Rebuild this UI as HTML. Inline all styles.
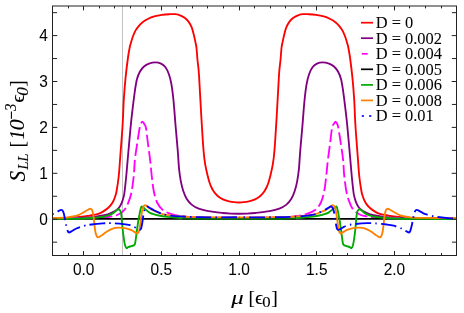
<!DOCTYPE html>
<html><head><meta charset="utf-8"><title>Chart</title>
<style>
html,body{margin:0;padding:0;background:#fff;}
body{width:464px;height:313px;overflow:hidden;position:relative;font-family:"Liberation Sans",sans-serif;}
</style></head><body>
<svg width="464" height="313" viewBox="0 0 464 313" style="position:absolute;left:0;top:0;will-change:transform">
<defs><clipPath id="cp"><rect x="52.50" y="6.00" width="404.00" height="249.50"/></clipPath></defs>
<line x1="122.50" y1="6.00" x2="122.50" y2="255.50" stroke="#c2c2c2" stroke-width="1"/>
<g clip-path="url(#cp)" fill="none" stroke-width="1.85" stroke-linejoin="round">
<path d="M52.50 218.20 C55.42 218.10 64.75 217.90 70.00 217.60 C75.25 217.30 80.88 216.70 84.00 216.40 C87.12 216.10 87.12 216.03 88.70 215.80 C90.28 215.57 91.92 215.33 93.50 215.00 C95.08 214.67 96.62 214.37 98.20 213.80 C99.78 213.23 101.42 212.52 103.00 211.60 C104.58 210.68 106.28 209.55 107.70 208.30 C109.12 207.05 110.47 205.52 111.50 204.10 C112.53 202.68 113.27 201.15 113.90 199.80 C114.53 198.45 114.85 197.47 115.30 196.00 C115.75 194.53 116.02 194.33 116.60 191.00 C117.17 187.67 118.13 181.83 118.75 176.00 C119.37 170.17 119.66 164.50 120.30 156.00 C120.94 147.50 122.02 134.38 122.60 125.00 C123.18 115.62 123.30 107.63 123.80 99.70 C124.30 91.77 124.90 84.43 125.60 77.40 C126.30 70.37 127.33 62.40 128.00 57.50 C128.67 52.60 129.12 50.43 129.60 48.00 C130.08 45.57 130.35 44.82 130.90 42.90 C131.45 40.98 132.13 38.55 132.90 36.50 C133.67 34.45 134.53 32.33 135.50 30.60 C136.47 28.87 137.52 27.50 138.70 26.10 C139.88 24.70 141.08 23.38 142.60 22.20 C144.12 21.02 145.87 19.97 147.80 19.00 C149.73 18.03 151.83 17.10 154.20 16.40 C156.57 15.70 159.42 15.17 162.00 14.80 C164.58 14.43 167.53 14.30 169.70 14.20 C171.87 14.10 173.38 14.05 175.00 14.20 C176.62 14.35 177.80 14.52 179.40 15.10 C181.00 15.68 183.08 16.62 184.60 17.70 C186.12 18.78 187.32 19.98 188.50 21.60 C189.68 23.22 190.80 25.13 191.70 27.40 C192.60 29.67 193.25 32.62 193.90 35.20 C194.55 37.78 195.17 40.77 195.60 42.90 C196.03 45.03 196.18 45.15 196.50 48.00 C196.82 50.85 197.08 55.50 197.50 60.00 C197.92 64.50 198.38 65.75 199.00 75.00 C199.62 84.25 200.50 103.00 201.25 115.50 C202.00 128.00 202.84 141.85 203.50 150.00 C204.16 158.15 204.48 160.02 205.20 164.40 C205.92 168.78 207.08 173.28 207.80 176.30 C208.52 179.32 208.88 180.63 209.50 182.50 C210.12 184.37 210.82 186.05 211.50 187.50 C212.18 188.95 212.83 190.07 213.60 191.20 C214.37 192.33 215.20 193.35 216.10 194.30 C217.00 195.25 218.00 196.13 219.00 196.90 C220.00 197.67 221.10 198.35 222.10 198.90 C223.10 199.45 224.00 199.83 225.00 200.20 C226.00 200.57 226.57 200.77 228.10 201.10 C229.63 201.43 232.38 201.97 234.20 202.20 C236.02 202.43 237.40 202.50 239.00 202.50 C240.60 202.50 241.98 202.43 243.80 202.20 C245.62 201.97 248.37 201.43 249.90 201.10 C251.43 200.77 252.00 200.57 253.00 200.20 C254.00 199.83 254.90 199.45 255.90 198.90 C256.90 198.35 258.00 197.67 259.00 196.90 C260.00 196.13 261.00 195.25 261.90 194.30 C262.80 193.35 263.63 192.33 264.40 191.20 C265.17 190.07 265.82 188.95 266.50 187.50 C267.18 186.05 267.88 184.37 268.50 182.50 C269.12 180.63 269.48 179.32 270.20 176.30 C270.92 173.28 272.08 168.78 272.80 164.40 C273.52 160.02 273.84 158.15 274.50 150.00 C275.16 141.85 276.00 128.00 276.75 115.50 C277.50 103.00 278.38 84.25 279.00 75.00 C279.62 65.75 280.08 64.50 280.50 60.00 C280.92 55.50 281.18 50.85 281.50 48.00 C281.82 45.15 281.97 45.03 282.40 42.90 C282.83 40.77 283.45 37.78 284.10 35.20 C284.75 32.62 285.40 29.67 286.30 27.40 C287.20 25.13 288.32 23.22 289.50 21.60 C290.68 19.98 291.88 18.78 293.40 17.70 C294.92 16.62 297.00 15.68 298.60 15.10 C300.20 14.52 301.38 14.35 303.00 14.20 C304.62 14.05 306.13 14.10 308.30 14.20 C310.47 14.30 313.42 14.43 316.00 14.80 C318.58 15.17 321.43 15.70 323.80 16.40 C326.17 17.10 328.27 18.03 330.20 19.00 C332.13 19.97 333.88 21.02 335.40 22.20 C336.92 23.38 338.12 24.70 339.30 26.10 C340.48 27.50 341.53 28.87 342.50 30.60 C343.47 32.33 344.33 34.45 345.10 36.50 C345.87 38.55 346.55 40.98 347.10 42.90 C347.65 44.82 347.92 45.57 348.40 48.00 C348.88 50.43 349.33 52.60 350.00 57.50 C350.67 62.40 351.70 70.37 352.40 77.40 C353.10 84.43 353.70 91.77 354.20 99.70 C354.70 107.63 354.82 115.62 355.40 125.00 C355.98 134.38 357.06 147.50 357.70 156.00 C358.34 164.50 358.63 170.17 359.25 176.00 C359.87 181.83 360.82 187.67 361.40 191.00 C361.97 194.33 362.25 194.53 362.70 196.00 C363.15 197.47 363.47 198.45 364.10 199.80 C364.73 201.15 365.47 202.68 366.50 204.10 C367.53 205.52 368.88 207.05 370.30 208.30 C371.72 209.55 373.42 210.68 375.00 211.60 C376.58 212.52 378.22 213.23 379.80 213.80 C381.38 214.37 382.92 214.67 384.50 215.00 C386.08 215.33 387.72 215.57 389.30 215.80 C390.88 216.03 390.88 216.10 394.00 216.40 C397.12 216.70 402.75 217.30 408.00 217.60 C413.25 217.90 417.42 218.03 425.50 218.20 C433.58 218.37 451.33 218.53 456.50 218.60" stroke="#ff0000"/>
<path d="M52.50 218.40 C57.92 218.27 77.38 217.97 85.00 217.60 C92.62 217.23 95.20 216.55 98.20 216.20 C101.20 215.85 101.42 215.82 103.00 215.50 C104.58 215.18 106.13 214.82 107.70 214.30 C109.27 213.78 110.82 213.22 112.40 212.40 C113.98 211.58 115.93 210.43 117.20 209.40 C118.47 208.37 119.22 207.37 120.00 206.20 C120.78 205.03 121.35 203.77 121.90 202.40 C122.45 201.03 122.88 199.57 123.30 198.00 C123.72 196.43 123.91 196.67 124.40 193.00 C124.89 189.33 125.65 182.17 126.25 176.00 C126.85 169.83 127.24 164.50 128.00 156.00 C128.76 147.50 129.98 133.27 130.80 125.00 C131.62 116.73 132.22 112.10 132.90 106.40 C133.58 100.70 134.22 95.37 134.90 90.80 C135.58 86.23 136.15 82.22 137.00 79.00 C137.85 75.78 138.83 73.58 140.00 71.50 C141.17 69.42 142.50 67.82 144.00 66.50 C145.50 65.18 147.08 64.28 149.00 63.60 C150.92 62.92 153.50 62.40 155.50 62.40 C157.50 62.40 159.33 62.80 161.00 63.60 C162.67 64.40 164.17 65.38 165.50 67.20 C166.83 69.02 168.02 71.68 169.00 74.50 C169.98 77.32 170.70 80.27 171.40 84.10 C172.10 87.93 172.70 93.03 173.20 97.50 C173.70 101.97 174.02 106.32 174.40 110.90 C174.78 115.48 174.95 118.48 175.50 125.00 C176.05 131.52 177.10 142.63 177.70 150.00 C178.30 157.37 178.58 164.02 179.10 169.20 C179.62 174.38 180.12 177.52 180.80 181.10 C181.48 184.68 182.20 187.70 183.20 190.70 C184.20 193.70 185.40 196.78 186.80 199.10 C188.20 201.42 189.62 203.00 191.60 204.60 C193.58 206.20 195.92 207.60 198.70 208.70 C201.48 209.80 204.30 210.48 208.30 211.20 C212.30 211.92 218.92 212.60 222.70 213.00 C226.48 213.40 228.28 213.48 231.00 213.60 C233.72 213.72 236.33 213.70 239.00 213.70 C241.67 213.70 244.28 213.72 247.00 213.60 C249.72 213.48 251.52 213.40 255.30 213.00 C259.08 212.60 265.70 211.92 269.70 211.20 C273.70 210.48 276.52 209.80 279.30 208.70 C282.08 207.60 284.42 206.20 286.40 204.60 C288.38 203.00 289.80 201.42 291.20 199.10 C292.60 196.78 293.80 193.70 294.80 190.70 C295.80 187.70 296.52 184.68 297.20 181.10 C297.88 177.52 298.38 174.38 298.90 169.20 C299.42 164.02 299.70 157.37 300.30 150.00 C300.90 142.63 301.95 131.52 302.50 125.00 C303.05 118.48 303.22 115.48 303.60 110.90 C303.98 106.32 304.30 101.97 304.80 97.50 C305.30 93.03 305.90 87.93 306.60 84.10 C307.30 80.27 308.02 77.32 309.00 74.50 C309.98 71.68 311.17 69.02 312.50 67.20 C313.83 65.38 315.33 64.40 317.00 63.60 C318.67 62.80 320.50 62.40 322.50 62.40 C324.50 62.40 327.08 62.92 329.00 63.60 C330.92 64.28 332.50 65.18 334.00 66.50 C335.50 67.82 336.83 69.42 338.00 71.50 C339.17 73.58 340.15 75.78 341.00 79.00 C341.85 82.22 342.42 86.23 343.10 90.80 C343.78 95.37 344.42 100.70 345.10 106.40 C345.78 112.10 346.38 116.73 347.20 125.00 C348.02 133.27 349.24 147.50 350.00 156.00 C350.76 164.50 351.15 169.83 351.75 176.00 C352.35 182.17 353.11 189.33 353.60 193.00 C354.09 196.67 354.28 196.43 354.70 198.00 C355.12 199.57 355.55 201.03 356.10 202.40 C356.65 203.77 357.22 205.03 358.00 206.20 C358.78 207.37 359.53 208.37 360.80 209.40 C362.07 210.43 364.02 211.58 365.60 212.40 C367.18 213.22 368.73 213.78 370.30 214.30 C371.87 214.82 373.42 215.18 375.00 215.50 C376.58 215.82 376.80 215.85 379.80 216.20 C382.80 216.55 385.38 217.23 393.00 217.60 C400.62 217.97 414.92 218.23 425.50 218.40 C436.08 218.57 451.33 218.57 456.50 218.60" stroke="#800080"/>
<path d="M52.50 218.50 C60.42 218.38 90.17 218.17 100.00 217.80 C109.83 217.43 108.63 216.77 111.50 216.30 C114.37 215.83 115.47 215.67 117.20 215.00 C118.93 214.33 120.48 213.42 121.90 212.30 C123.32 211.18 124.75 209.60 125.70 208.30 C126.65 207.00 126.67 206.97 127.60 204.50 C128.53 202.03 130.22 198.25 131.25 193.50 C132.28 188.75 133.14 181.63 133.75 176.00 C134.36 170.37 134.36 164.90 134.90 159.70 C135.44 154.50 136.22 150.05 137.00 144.80 C137.78 139.55 138.98 131.65 139.60 128.20 C140.22 124.75 140.22 125.18 140.70 124.10 C141.18 123.02 141.90 121.70 142.50 121.70 C143.10 121.70 143.72 123.02 144.30 124.10 C144.88 125.18 145.37 124.75 146.00 128.20 C146.63 131.65 147.40 139.40 148.10 144.80 C148.80 150.20 149.59 155.40 150.20 160.60 C150.81 165.80 151.16 170.93 151.75 176.00 C152.34 181.07 152.88 186.62 153.75 191.00 C154.62 195.38 155.54 199.12 157.00 202.25 C158.46 205.38 159.92 207.72 162.50 209.75 C165.08 211.78 168.33 213.22 172.50 214.40 C176.67 215.58 182.08 216.27 187.50 216.80 C192.92 217.33 196.42 217.43 205.00 217.60 C213.58 217.77 233.33 217.77 239.00 217.80" stroke="#ff00ff" stroke-dasharray="12.5 4" stroke-dashoffset="2.31"/>
<path d="M239.00 217.80 C244.67 217.77 264.42 217.77 273.00 217.60 C281.58 217.43 285.08 217.33 290.50 216.80 C295.92 216.27 301.33 215.58 305.50 214.40 C309.67 213.22 312.92 211.78 315.50 209.75 C318.08 207.72 319.54 205.38 321.00 202.25 C322.46 199.12 323.38 195.38 324.25 191.00 C325.12 186.62 325.66 181.07 326.25 176.00 C326.84 170.93 327.19 165.80 327.80 160.60 C328.41 155.40 329.20 150.20 329.90 144.80 C330.60 139.40 331.37 131.65 332.00 128.20 C332.63 124.75 333.12 125.18 333.70 124.10 C334.28 123.02 334.90 121.70 335.50 121.70 C336.10 121.70 336.82 123.02 337.30 124.10 C337.78 125.18 337.78 124.75 338.40 128.20 C339.02 131.65 340.22 139.55 341.00 144.80 C341.78 150.05 342.56 154.50 343.10 159.70 C343.64 164.90 343.64 170.37 344.25 176.00 C344.86 181.63 345.73 188.75 346.75 193.50 C347.77 198.25 349.47 202.03 350.40 204.50 C351.32 206.97 351.35 207.00 352.30 208.30 C353.25 209.60 354.68 211.18 356.10 212.30 C357.52 213.42 359.07 214.33 360.80 215.00 C362.53 215.67 363.63 215.83 366.50 216.30 C369.37 216.77 368.17 217.43 378.00 217.80 C387.83 218.17 412.42 218.37 425.50 218.50 C438.58 218.63 451.33 218.58 456.50 218.60" stroke="#ff00ff" stroke-dasharray="12.5 4" stroke-dashoffset="0.15"/>
<line x1="52.50" y1="218.90" x2="456.50" y2="218.90" stroke="#000" stroke-width="1.7"/>
<path d="M52.50 218.90 C56.25 218.88 68.42 218.90 75.00 218.75 C81.58 218.60 87.73 218.26 92.00 218.00 C96.27 217.74 98.43 217.48 100.60 217.20 C102.77 216.92 103.57 216.65 105.00 216.30 C106.43 215.95 107.78 215.67 109.20 215.10 C110.62 214.53 112.20 213.77 113.50 212.90 C114.80 212.03 116.13 210.50 117.00 209.90 C117.87 209.30 118.13 209.12 118.70 209.30 C119.27 209.48 119.95 209.97 120.40 211.00 C120.85 212.03 121.13 213.67 121.40 215.50 C121.67 217.33 121.79 219.72 122.00 222.00 C122.21 224.28 122.42 226.97 122.65 229.20 C122.88 231.43 123.12 233.32 123.40 235.40 C123.68 237.48 124.00 239.98 124.30 241.70 C124.60 243.42 124.83 244.65 125.20 245.70 C125.57 246.75 126.10 247.67 126.50 248.00 C126.90 248.33 127.23 247.88 127.60 247.70 C127.97 247.52 128.07 247.15 128.70 246.90 C129.33 246.65 130.57 246.45 131.40 246.20 C132.23 245.95 133.12 245.68 133.65 245.40 C134.18 245.12 134.34 244.90 134.60 244.50 C134.86 244.10 134.98 244.07 135.20 243.00 C135.42 241.93 135.63 240.12 135.90 238.10 C136.17 236.08 136.53 232.83 136.80 230.90 C137.07 228.97 137.28 227.98 137.50 226.50 C137.72 225.02 137.80 223.83 138.10 222.00 C138.40 220.17 138.95 217.37 139.30 215.50 C139.65 213.63 139.85 212.27 140.20 210.80 C140.55 209.33 141.00 207.35 141.40 206.70 C141.80 206.05 142.07 206.58 142.60 206.90 C143.13 207.22 143.38 207.62 144.60 208.60 C145.82 209.58 147.53 211.65 149.90 212.80 C152.27 213.95 155.82 214.82 158.80 215.50 C161.78 216.18 164.27 216.48 167.80 216.90 C171.33 217.32 175.97 217.70 180.00 218.00 C184.03 218.30 187.83 218.54 192.00 218.70 C196.17 218.86 197.17 218.91 205.00 218.95 C212.83 218.99 227.67 218.95 239.00 218.95 C250.33 218.95 265.17 218.99 273.00 218.95 C280.83 218.91 281.83 218.86 286.00 218.70 C290.17 218.54 293.97 218.30 298.00 218.00 C302.03 217.70 306.67 217.32 310.20 216.90 C313.73 216.48 316.22 216.18 319.20 215.50 C322.18 214.82 325.73 213.95 328.10 212.80 C330.47 211.65 332.18 209.58 333.40 208.60 C334.62 207.62 334.87 207.22 335.40 206.90 C335.93 206.58 336.20 206.05 336.60 206.70 C337.00 207.35 337.45 209.33 337.80 210.80 C338.15 212.27 338.35 213.63 338.70 215.50 C339.05 217.37 339.60 220.17 339.90 222.00 C340.20 223.83 340.28 225.02 340.50 226.50 C340.72 227.98 340.93 228.97 341.20 230.90 C341.47 232.83 341.83 236.08 342.10 238.10 C342.37 240.12 342.58 241.93 342.80 243.00 C343.02 244.07 343.14 244.10 343.40 244.50 C343.66 244.90 343.82 245.12 344.35 245.40 C344.88 245.68 345.78 245.95 346.60 246.20 C347.43 246.45 348.67 246.65 349.30 246.90 C349.93 247.15 350.03 247.52 350.40 247.70 C350.77 247.88 351.10 248.33 351.50 248.00 C351.90 247.67 352.43 246.75 352.80 245.70 C353.17 244.65 353.40 243.42 353.70 241.70 C354.00 239.98 354.33 237.48 354.60 235.40 C354.88 233.32 355.12 231.43 355.35 229.20 C355.58 226.97 355.79 224.28 356.00 222.00 C356.21 219.72 356.33 217.33 356.60 215.50 C356.87 213.67 357.15 212.03 357.60 211.00 C358.05 209.97 358.73 209.48 359.30 209.30 C359.87 209.12 360.13 209.30 361.00 209.90 C361.87 210.50 363.20 212.03 364.50 212.90 C365.80 213.77 367.38 214.53 368.80 215.10 C370.22 215.67 371.57 215.95 373.00 216.30 C374.43 216.65 375.23 216.92 377.40 217.20 C379.57 217.48 381.73 217.74 386.00 218.00 C390.27 218.26 396.42 218.60 403.00 218.75 C409.58 218.90 416.58 218.84 425.50 218.90 C434.42 218.96 451.33 219.07 456.50 219.10" stroke="#00aa00"/>
<line x1="182" y1="219.1" x2="296" y2="219.1" stroke="#000" stroke-width="1.5" stroke-opacity="0.5"/>
<path d="M52.50 217.90 C54.52 217.85 61.87 217.72 64.60 217.60 C67.33 217.48 67.47 217.38 68.90 217.20 C70.33 217.02 71.75 216.82 73.20 216.50 C74.65 216.18 76.15 215.83 77.60 215.30 C79.05 214.77 80.47 214.07 81.90 213.30 C83.33 212.53 84.98 211.40 86.20 210.70 C87.42 210.00 88.48 209.42 89.20 209.10 C89.92 208.78 90.00 208.60 90.50 208.80 C91.00 209.00 91.70 209.05 92.20 210.30 C92.70 211.55 93.17 214.28 93.50 216.30 C93.83 218.32 93.88 219.78 94.20 222.40 C94.52 225.02 94.85 229.53 95.40 232.00 C95.95 234.47 96.57 236.57 97.50 237.20 C98.43 237.83 99.53 236.67 101.00 235.80 C102.47 234.93 104.47 233.17 106.30 232.00 C108.13 230.83 109.88 229.53 112.00 228.80 C114.12 228.07 116.67 227.67 119.00 227.60 C121.33 227.53 123.93 227.97 126.00 228.40 C128.07 228.83 129.77 229.47 131.40 230.20 C133.03 230.93 134.78 232.27 135.80 232.80 C136.82 233.33 136.92 233.83 137.50 233.40 C138.08 232.97 138.72 232.78 139.30 230.20 C139.88 227.62 140.42 221.57 141.00 217.90 C141.58 214.23 142.12 210.32 142.80 208.20 C143.48 206.08 144.22 205.35 145.10 205.20 C145.98 205.05 146.87 206.47 148.10 207.30 C149.33 208.13 150.60 209.25 152.50 210.20 C154.40 211.15 157.42 212.27 159.50 213.00 C161.58 213.73 161.58 214.03 165.00 214.60 C168.42 215.17 174.17 215.97 180.00 216.40 C185.83 216.83 190.17 217.05 200.00 217.20 C209.83 217.35 226.00 217.30 239.00 217.30 C252.00 217.30 268.17 217.35 278.00 217.20 C287.83 217.05 292.17 216.83 298.00 216.40 C303.83 215.97 309.58 215.17 313.00 214.60 C316.42 214.03 316.42 213.73 318.50 213.00 C320.58 212.27 323.60 211.15 325.50 210.20 C327.40 209.25 328.67 208.13 329.90 207.30 C331.13 206.47 332.02 205.05 332.90 205.20 C333.78 205.35 334.52 206.08 335.20 208.20 C335.88 210.32 336.42 214.23 337.00 217.90 C337.58 221.57 338.12 227.62 338.70 230.20 C339.28 232.78 339.92 232.97 340.50 233.40 C341.08 233.83 341.18 233.33 342.20 232.80 C343.22 232.27 344.97 230.93 346.60 230.20 C348.23 229.47 349.93 228.83 352.00 228.40 C354.07 227.97 356.67 227.53 359.00 227.60 C361.33 227.67 363.88 228.07 366.00 228.80 C368.12 229.53 369.87 230.83 371.70 232.00 C373.53 233.17 375.53 234.93 377.00 235.80 C378.47 236.67 379.57 237.83 380.50 237.20 C381.43 236.57 382.05 234.47 382.60 232.00 C383.15 229.53 383.48 225.02 383.80 222.40 C384.12 219.78 384.17 218.32 384.50 216.30 C384.83 214.28 385.30 211.55 385.80 210.30 C386.30 209.05 387.00 209.00 387.50 208.80 C388.00 208.60 388.08 208.78 388.80 209.10 C389.52 209.42 390.58 210.00 391.80 210.70 C393.02 211.40 394.67 212.53 396.10 213.30 C397.53 214.07 398.95 214.77 400.40 215.30 C401.85 215.83 403.35 216.18 404.80 216.50 C406.25 216.82 407.67 217.02 409.10 217.20 C410.53 217.38 410.67 217.48 413.40 217.60 C416.13 217.72 418.32 217.80 425.50 217.90 C432.68 218.00 451.33 218.15 456.50 218.20" stroke="#ff8000"/>
<path d="M52.50 214.20 C53.25 213.82 55.50 212.62 57.00 211.90 C58.50 211.18 60.42 209.80 61.50 209.90 C62.58 210.00 62.92 210.95 63.50 212.50 C64.08 214.05 64.55 217.07 65.00 219.20 C65.45 221.33 65.75 223.35 66.20 225.30 C66.65 227.25 67.23 229.70 67.70 230.90 C68.17 232.10 68.28 232.48 69.00 232.50 C69.72 232.52 70.77 231.67 72.00 231.00 C73.23 230.33 74.33 229.38 76.40 228.50 C78.47 227.62 81.90 226.37 84.40 225.70 C86.90 225.03 88.33 224.88 91.40 224.50 C94.47 224.12 99.58 223.62 102.80 223.40 C106.02 223.18 107.25 223.08 110.70 223.20 C114.15 223.32 120.27 223.77 123.50 224.10 C126.73 224.43 128.23 224.68 130.10 225.20 C131.97 225.72 133.38 226.53 134.70 227.20 C136.02 227.87 137.15 228.77 138.00 229.20 C138.85 229.63 139.27 229.97 139.80 229.80 C140.33 229.63 140.77 229.50 141.20 228.20 C141.63 226.90 142.03 224.20 142.40 222.00 C142.77 219.80 143.02 217.07 143.40 215.00 C143.78 212.93 144.27 210.93 144.70 209.60 C145.13 208.27 145.57 207.53 146.00 207.00 C146.43 206.47 146.63 206.23 147.30 206.40 C147.97 206.57 148.82 207.32 150.00 208.00 C151.18 208.68 152.48 209.55 154.40 210.50 C156.32 211.45 159.57 212.97 161.50 213.70 C163.43 214.43 163.75 214.50 166.00 214.90 C168.25 215.30 169.33 215.72 175.00 216.10 C180.67 216.48 189.33 217.00 200.00 217.20 C210.67 217.40 232.50 217.28 239.00 217.30" stroke="#0000ff" stroke-dasharray="1.5 4.25 15.5 4.25" stroke-dashoffset="0"/>
<path d="M239.00 217.30 C245.50 217.28 267.33 217.40 278.00 217.20 C288.67 217.00 297.33 216.48 303.00 216.10 C308.67 215.72 309.75 215.30 312.00 214.90 C314.25 214.50 314.57 214.43 316.50 213.70 C318.43 212.97 321.68 211.45 323.60 210.50 C325.52 209.55 326.82 208.68 328.00 208.00 C329.18 207.32 330.03 206.57 330.70 206.40 C331.37 206.23 331.57 206.47 332.00 207.00 C332.43 207.53 332.87 208.27 333.30 209.60 C333.73 210.93 334.22 212.93 334.60 215.00 C334.98 217.07 335.23 219.80 335.60 222.00 C335.97 224.20 336.37 226.90 336.80 228.20 C337.23 229.50 337.67 229.63 338.20 229.80 C338.73 229.97 339.15 229.63 340.00 229.20 C340.85 228.77 341.98 227.87 343.30 227.20 C344.62 226.53 346.03 225.72 347.90 225.20 C349.77 224.68 351.27 224.43 354.50 224.10 C357.73 223.77 363.85 223.32 367.30 223.20 C370.75 223.08 371.98 223.18 375.20 223.40 C378.42 223.62 383.53 224.12 386.60 224.50 C389.67 224.88 391.10 225.03 393.60 225.70 C396.10 226.37 399.53 227.62 401.60 228.50 C403.67 229.38 404.77 230.33 406.00 231.00 C407.23 231.67 408.28 232.52 409.00 232.50 C409.72 232.48 409.83 232.10 410.30 230.90 C410.77 229.70 411.35 227.25 411.80 225.30 C412.25 223.35 412.55 221.33 413.00 219.20 C413.45 217.07 413.92 214.05 414.50 212.50 C415.08 210.95 415.42 210.00 416.50 209.90 C417.58 209.80 419.50 211.18 421.00 211.90 C422.50 212.62 423.08 213.40 425.50 214.20 C427.92 215.00 431.75 216.03 435.50 216.70 C439.25 217.37 444.50 217.87 448.00 218.20 C451.50 218.53 455.08 218.62 456.50 218.70" stroke="#0000ff" stroke-dasharray="1.5 4.25 15.5 4.25" stroke-dashoffset="20.85"/>
</g>
<g stroke="#222" stroke-width="1" fill="none">
<rect x="52.50" y="6.00" width="404.00" height="249.50"/>
<line x1="68.50" y1="255.50" x2="68.50" y2="253.00"/>
<line x1="68.50" y1="6.00" x2="68.50" y2="8.40"/>
<line x1="83.50" y1="255.50" x2="83.50" y2="251.00"/>
<line x1="83.50" y1="6.00" x2="83.50" y2="10.40"/>
<line x1="99.50" y1="255.50" x2="99.50" y2="253.00"/>
<line x1="99.50" y1="6.00" x2="99.50" y2="8.40"/>
<line x1="114.50" y1="255.50" x2="114.50" y2="253.00"/>
<line x1="114.50" y1="6.00" x2="114.50" y2="8.40"/>
<line x1="130.50" y1="255.50" x2="130.50" y2="253.00"/>
<line x1="130.50" y1="6.00" x2="130.50" y2="8.40"/>
<line x1="145.50" y1="255.50" x2="145.50" y2="253.00"/>
<line x1="145.50" y1="6.00" x2="145.50" y2="8.40"/>
<line x1="161.50" y1="255.50" x2="161.50" y2="251.00"/>
<line x1="161.50" y1="6.00" x2="161.50" y2="10.40"/>
<line x1="176.50" y1="255.50" x2="176.50" y2="253.00"/>
<line x1="176.50" y1="6.00" x2="176.50" y2="8.40"/>
<line x1="192.50" y1="255.50" x2="192.50" y2="253.00"/>
<line x1="192.50" y1="6.00" x2="192.50" y2="8.40"/>
<line x1="207.50" y1="255.50" x2="207.50" y2="253.00"/>
<line x1="207.50" y1="6.00" x2="207.50" y2="8.40"/>
<line x1="223.50" y1="255.50" x2="223.50" y2="253.00"/>
<line x1="223.50" y1="6.00" x2="223.50" y2="8.40"/>
<line x1="239.50" y1="255.50" x2="239.50" y2="251.00"/>
<line x1="239.50" y1="6.00" x2="239.50" y2="10.40"/>
<line x1="254.50" y1="255.50" x2="254.50" y2="253.00"/>
<line x1="254.50" y1="6.00" x2="254.50" y2="8.40"/>
<line x1="270.50" y1="255.50" x2="270.50" y2="253.00"/>
<line x1="270.50" y1="6.00" x2="270.50" y2="8.40"/>
<line x1="285.50" y1="255.50" x2="285.50" y2="253.00"/>
<line x1="285.50" y1="6.00" x2="285.50" y2="8.40"/>
<line x1="301.50" y1="255.50" x2="301.50" y2="253.00"/>
<line x1="301.50" y1="6.00" x2="301.50" y2="8.40"/>
<line x1="316.50" y1="255.50" x2="316.50" y2="251.00"/>
<line x1="316.50" y1="6.00" x2="316.50" y2="10.40"/>
<line x1="332.50" y1="255.50" x2="332.50" y2="253.00"/>
<line x1="332.50" y1="6.00" x2="332.50" y2="8.40"/>
<line x1="347.50" y1="255.50" x2="347.50" y2="253.00"/>
<line x1="347.50" y1="6.00" x2="347.50" y2="8.40"/>
<line x1="363.50" y1="255.50" x2="363.50" y2="253.00"/>
<line x1="363.50" y1="6.00" x2="363.50" y2="8.40"/>
<line x1="378.50" y1="255.50" x2="378.50" y2="253.00"/>
<line x1="378.50" y1="6.00" x2="378.50" y2="8.40"/>
<line x1="394.50" y1="255.50" x2="394.50" y2="251.00"/>
<line x1="394.50" y1="6.00" x2="394.50" y2="10.40"/>
<line x1="409.50" y1="255.50" x2="409.50" y2="253.00"/>
<line x1="409.50" y1="6.00" x2="409.50" y2="8.40"/>
<line x1="425.50" y1="255.50" x2="425.50" y2="253.00"/>
<line x1="425.50" y1="6.00" x2="425.50" y2="8.40"/>
<line x1="441.50" y1="255.50" x2="441.50" y2="253.00"/>
<line x1="441.50" y1="6.00" x2="441.50" y2="8.40"/>
<line x1="52.50" y1="242.15" x2="57.10" y2="242.15"/>
<line x1="456.50" y1="242.15" x2="451.90" y2="242.15"/>
<line x1="52.50" y1="219.20" x2="57.30" y2="219.20"/>
<line x1="456.50" y1="219.20" x2="451.70" y2="219.20"/>
<line x1="52.50" y1="196.25" x2="57.10" y2="196.25"/>
<line x1="456.50" y1="196.25" x2="451.90" y2="196.25"/>
<line x1="52.50" y1="173.30" x2="57.30" y2="173.30"/>
<line x1="456.50" y1="173.30" x2="451.70" y2="173.30"/>
<line x1="52.50" y1="150.35" x2="57.10" y2="150.35"/>
<line x1="456.50" y1="150.35" x2="451.90" y2="150.35"/>
<line x1="52.50" y1="127.40" x2="57.30" y2="127.40"/>
<line x1="456.50" y1="127.40" x2="451.70" y2="127.40"/>
<line x1="52.50" y1="104.45" x2="57.10" y2="104.45"/>
<line x1="456.50" y1="104.45" x2="451.90" y2="104.45"/>
<line x1="52.50" y1="81.50" x2="57.30" y2="81.50"/>
<line x1="456.50" y1="81.50" x2="451.70" y2="81.50"/>
<line x1="52.50" y1="58.55" x2="57.10" y2="58.55"/>
<line x1="456.50" y1="58.55" x2="451.90" y2="58.55"/>
<line x1="52.50" y1="35.60" x2="57.30" y2="35.60"/>
<line x1="456.50" y1="35.60" x2="451.70" y2="35.60"/>
<line x1="52.50" y1="12.65" x2="57.10" y2="12.65"/>
<line x1="456.50" y1="12.65" x2="451.90" y2="12.65"/>
</g>
<g font-family="Liberation Sans, sans-serif" font-size="16" fill="#000" stroke="#000" stroke-width="0.04">
<text transform="translate(83.65,274.60) scale(0.965,1)" text-anchor="middle">0.0</text>
<text transform="translate(161.35,274.60) scale(0.965,1)" text-anchor="middle">0.5</text>
<text transform="translate(239.05,274.60) scale(0.965,1)" text-anchor="middle">1.0</text>
<text transform="translate(316.75,274.60) scale(0.965,1)" text-anchor="middle">1.5</text>
<text transform="translate(394.45,274.60) scale(0.965,1)" text-anchor="middle">2.0</text>
<text transform="translate(47.90,224.60) scale(0.965,1)" text-anchor="end">0</text>
<text transform="translate(47.90,178.70) scale(0.965,1)" text-anchor="end">1</text>
<text transform="translate(47.90,132.80) scale(0.965,1)" text-anchor="end">2</text>
<text transform="translate(47.90,86.90) scale(0.965,1)" text-anchor="end">3</text>
<text transform="translate(47.90,41.00) scale(0.965,1)" text-anchor="end">4</text>
</g>
<text transform="matrix(0.24802,0,0,0.19767,231.324,303.773)" font-family="Liberation Serif, serif" font-size="100" font-style="italic" stroke="#000" stroke-width="0.36" fill="#000">μ</text>
<text transform="matrix(0.19312,0,0,0.19574,248.567,303.731)" font-family="Liberation Serif, serif" font-size="100" stroke="#000" stroke-width="0.41" fill="#000">[</text>
<text transform="matrix(0.20538,0,0,0.19129,254.918,303.713)" font-family="Liberation Serif, serif" font-size="100" stroke="#000" stroke-width="0.40" fill="#000">ϵ</text>
<text transform="matrix(0.16752,0,0,0.15115,262.262,307.252)" font-family="Liberation Serif, serif" font-size="100" stroke="#000" stroke-width="0.50" fill="#000">0</text>
<text transform="matrix(0.19761,0,0,0.19574,271.186,303.731)" font-family="Liberation Serif, serif" font-size="100" stroke="#000" stroke-width="0.41" fill="#000">]</text>
<g transform="rotate(-90)"><text transform="matrix(0.21391,0,0,0.23070,-181.551,24.875)" font-family="Liberation Serif, serif" font-size="100" font-style="italic" stroke="#000" stroke-width="0.36" fill="#000">S</text></g>
<g transform="rotate(-90)"><text transform="matrix(0.14985,0,0,0.15425,-169.724,27.800)" font-family="Liberation Serif, serif" font-size="100" font-style="italic" stroke="#000" stroke-width="0.53" fill="#000">L</text></g>
<g transform="rotate(-90)"><text transform="matrix(0.14985,0,0,0.15425,-161.824,27.800)" font-family="Liberation Serif, serif" font-size="100" font-style="italic" stroke="#000" stroke-width="0.53" fill="#000">L</text></g>
<g transform="rotate(-90)"><text transform="matrix(0.19312,0,0,0.20226,-147.533,24.094)" font-family="Liberation Serif, serif" font-size="100" stroke="#000" stroke-width="0.40" fill="#000">[</text></g>
<g transform="rotate(-90)"><text transform="matrix(0.18771,0,0,0.21737,-139.569,23.950)" font-family="Liberation Serif, serif" font-size="100" font-style="italic" stroke="#000" stroke-width="0.39" fill="#000">1</text></g>
<g transform="rotate(-90)"><text transform="matrix(0.22062,0,0,0.22006,-130.351,23.735)" font-family="Liberation Serif, serif" font-size="100" font-style="italic" stroke="#000" stroke-width="0.36" fill="#000">0</text></g>
<g transform="rotate(-90)"><text transform="matrix(0.15903,0,0,0.20078,-120.509,18.467)" font-family="Liberation Serif, serif" font-size="100" font-style="italic" stroke="#000" stroke-width="0.44" fill="#000">−</text></g>
<g transform="rotate(-90)"><text transform="matrix(0.14996,0,0,0.16551,-110.978,15.938)" font-family="Liberation Serif, serif" font-size="100" font-style="italic" stroke="#000" stroke-width="0.51" fill="#000">3</text></g>
<g transform="rotate(-90)"><text transform="matrix(0.20827,0,0,0.17985,-102.693,23.774)" font-family="Liberation Serif, serif" font-size="100" stroke="#000" stroke-width="0.41" fill="#000">ϵ</text></g>
<g transform="rotate(-90)"><text transform="matrix(0.17160,0,0,0.16182,-95.862,27.812)" font-family="Liberation Serif, serif" font-size="100" font-style="italic" stroke="#000" stroke-width="0.48" fill="#000">0</text></g>
<g transform="rotate(-90)"><text transform="matrix(0.19312,0,0,0.20226,-86.748,24.094)" font-family="Liberation Serif, serif" font-size="100" stroke="#000" stroke-width="0.40" fill="#000">]</text></g>
<line x1="361" y1="22.70" x2="373" y2="22.70" stroke="#ff0000" stroke-width="1.7"/>
<text transform="translate(375.7,28.00) scale(1.008,1)" font-family="Liberation Serif, serif" font-size="16.3" fill="#000" stroke="#000" stroke-width="0.06">D = 0</text>
<line x1="361" y1="38.20" x2="373" y2="38.20" stroke="#800080" stroke-width="1.7"/>
<text transform="translate(375.7,43.50) scale(1.008,1)" font-family="Liberation Serif, serif" font-size="16.3" fill="#000" stroke="#000" stroke-width="0.06">D = 0.002</text>
<line x1="361.8" y1="53.80" x2="367.7" y2="53.80" stroke="#ff00ff" stroke-width="1.7"/>
<text transform="translate(375.7,59.10) scale(1.008,1)" font-family="Liberation Serif, serif" font-size="16.3" fill="#000" stroke="#000" stroke-width="0.06">D = 0.004</text>
<line x1="361" y1="69.30" x2="373" y2="69.30" stroke="#000000" stroke-width="1.7"/>
<text transform="translate(375.7,74.60) scale(1.008,1)" font-family="Liberation Serif, serif" font-size="16.3" fill="#000" stroke="#000" stroke-width="0.06">D = 0.005</text>
<line x1="361" y1="84.90" x2="373" y2="84.90" stroke="#00aa00" stroke-width="1.7"/>
<text transform="translate(375.7,90.20) scale(1.008,1)" font-family="Liberation Serif, serif" font-size="16.3" fill="#000" stroke="#000" stroke-width="0.06">D = 0.006</text>
<line x1="361" y1="100.40" x2="373" y2="100.40" stroke="#ff8000" stroke-width="1.7"/>
<text transform="translate(375.7,105.70) scale(1.008,1)" font-family="Liberation Serif, serif" font-size="16.3" fill="#000" stroke="#000" stroke-width="0.06">D = 0.008</text>
<line x1="361.8" y1="116.00" x2="363.9" y2="116.00" stroke="#0000ff" stroke-width="1.7"/>
<line x1="369.2" y1="116.00" x2="371.3" y2="116.00" stroke="#0000ff" stroke-width="1.7"/>
<text transform="translate(375.7,121.30) scale(1.008,1)" font-family="Liberation Serif, serif" font-size="16.3" fill="#000" stroke="#000" stroke-width="0.06">D = 0.01</text>
</svg>
</body></html>
